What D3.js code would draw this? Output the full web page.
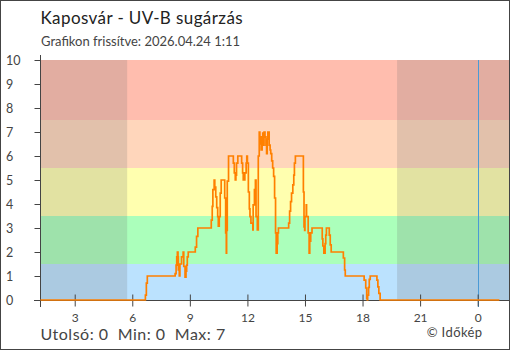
<!DOCTYPE html>
<html>
<head>
<meta charset="utf-8">
<script src="https://cdn.jsdelivr.net/npm/d3@7"></script>
<style>
  body { margin: 0; background: #fff; }
  svg { display: block; }
  text { font-family: Lato, "Noto Sans", sans-serif; }
</style>
</head>
<body>
<svg id="chart" width="510" height="350"></svg>
<script>
// Texts
const title = "Kaposvár - UV-B sugárzás";
const subtitle = "Grafikon frissítve: 2026.04.24 1:11";
const credit = "© Időkép";

// UV-B readings (step series, each value holds until the next timestamp)
const times = [
  "2026-04-23T01:13", "2026-04-23T06:41", "2026-04-23T06:44", "2026-04-23T06:47",
  "2026-04-23T08:14", "2026-04-23T08:17", "2026-04-23T08:19", "2026-04-23T08:21",
  "2026-04-23T08:23", "2026-04-23T08:24", "2026-04-23T08:27", "2026-04-23T08:29",
  "2026-04-23T08:34", "2026-04-23T08:39", "2026-04-23T08:41", "2026-04-23T08:45",
  "2026-04-23T08:48", "2026-04-23T08:50", "2026-04-23T08:52", "2026-04-23T08:55",
  "2026-04-23T09:17", "2026-04-23T09:21", "2026-04-23T09:25", "2026-04-23T10:07",
  "2026-04-23T10:10", "2026-04-23T10:12", "2026-04-23T10:16", "2026-04-23T10:18",
  "2026-04-23T10:21", "2026-04-23T10:24", "2026-04-23T10:27", "2026-04-23T10:29",
  "2026-04-23T10:32", "2026-04-23T10:35", "2026-04-23T10:38", "2026-04-23T10:49",
  "2026-04-23T10:52", "2026-04-23T10:54", "2026-04-23T10:55", "2026-04-23T10:57",
  "2026-04-23T11:01", "2026-04-23T11:16", "2026-04-23T11:19", "2026-04-23T11:22",
  "2026-04-23T11:24", "2026-04-23T11:26", "2026-04-23T11:30", "2026-04-23T11:42",
  "2026-04-23T11:45", "2026-04-23T11:47", "2026-04-23T11:52", "2026-04-23T11:56",
  "2026-04-23T11:58", "2026-04-23T12:00", "2026-04-23T12:03", "2026-04-23T12:06",
  "2026-04-23T12:08", "2026-04-23T12:11", "2026-04-23T12:17", "2026-04-23T12:18",
  "2026-04-23T12:22", "2026-04-23T12:25", "2026-04-23T12:27", "2026-04-23T12:31",
  "2026-04-23T12:34", "2026-04-23T12:37", "2026-04-23T12:39", "2026-04-23T12:42",
  "2026-04-23T12:43", "2026-04-23T12:46", "2026-04-23T12:48", "2026-04-23T12:50",
  "2026-04-23T12:52", "2026-04-23T12:55", "2026-04-23T12:58", "2026-04-23T13:00",
  "2026-04-23T13:02", "2026-04-23T13:04", "2026-04-23T13:08", "2026-04-23T13:11",
  "2026-04-23T13:13", "2026-04-23T13:16", "2026-04-23T13:19", "2026-04-23T13:22",
  "2026-04-23T13:25", "2026-04-23T13:28", "2026-04-23T13:30", "2026-04-23T13:33",
  "2026-04-23T13:35", "2026-04-23T13:37", "2026-04-23T14:09", "2026-04-23T14:12",
  "2026-04-23T14:15", "2026-04-23T14:18", "2026-04-23T14:22", "2026-04-23T14:25",
  "2026-04-23T14:27", "2026-04-23T14:30", "2026-04-23T14:55", "2026-04-23T14:57",
  "2026-04-23T14:59", "2026-04-23T15:00", "2026-04-23T15:04", "2026-04-23T15:05",
  "2026-04-23T15:10", "2026-04-23T15:13", "2026-04-23T15:15", "2026-04-23T15:18",
  "2026-04-23T15:22", "2026-04-23T15:54", "2026-04-23T15:56", "2026-04-23T15:59",
  "2026-04-23T16:03", "2026-04-23T16:05", "2026-04-23T16:07", "2026-04-23T16:16",
  "2026-04-23T16:19", "2026-04-23T16:22", "2026-04-23T17:00", "2026-04-23T17:04",
  "2026-04-23T17:06", "2026-04-23T18:05", "2026-04-23T18:10", "2026-04-23T18:13",
  "2026-04-23T18:15", "2026-04-23T18:16", "2026-04-23T18:19", "2026-04-23T18:21",
  "2026-04-23T18:24", "2026-04-23T18:45", "2026-04-23T18:48", "2026-04-23T18:51",
  "2026-04-23T18:55", "2026-04-24T01:08"
];
const uvValues = [
  0, 0.2, 0.7, 1.0,
  1.1, 1.45, 1.8, 2.0,
  1.8, 1.25, 1.0, 1.5,
  1.8, 2.0, 1.4, 0.95,
  1.2, 1.45, 1.8, 2.0,
  2.2, 2.65, 3.0, 3.33,
  3.9, 4.6, 5.0, 4.7,
  4.3, 3.85, 3.47, 3.08,
  3.47, 4.45, 5.0, 4.25,
  2.8, 1.95, 2.9, 4.95,
  6.0, 5.7, 5.3, 5.0,
  5.2, 5.7, 6.0, 5.7,
  5.3, 5.0, 5.3, 5.7,
  6.0, 5.7, 4.5, 3.8,
  3.47, 3.2, 2.92, 3.96,
  4.6, 5.0, 3.47, 2.92,
  6.0, 7.0, 6.5, 6.8,
  6.25, 6.7, 6.95, 6.45,
  7.0, 6.8, 6.45, 6.1,
  6.7, 7.0, 6.45, 6.25,
  6.1, 5.8, 5.5, 5.15,
  4.25, 2.8, 1.95, 2.35,
  2.8, 3.0, 3.2, 3.7,
  4.1, 4.45, 4.8, 5.2,
  5.7, 6.0, 4.5, 3.05,
  2.9, 3.47, 3.96, 3.47,
  2.8, 1.95, 2.45, 2.8,
  3.0, 2.55, 2.25, 1.95,
  2.35, 2.7, 3.0, 2.7,
  2.3, 2.0, 1.75, 1.25,
  1.0, 0.83, 0.5, 0.07,
  0, 0.2, 0.53, 0.86,
  1.0, 0.83, 0.55, 0.28,
  0, 0
];

// Axis ticks
const yTicks = [0, 1, 2, 3, 4, 5, 6, 7, 8, 9, 10];
const xTickTimes = [
  "2026-04-23T03:00", "2026-04-23T06:00", "2026-04-23T09:00", "2026-04-23T12:00",
  "2026-04-23T15:00", "2026-04-23T18:00", "2026-04-23T21:00", "2026-04-24T00:00"
];
const xTickLabels = ["3", "6", "9", "12", "15", "18", "21", "0"];

// UV level bands and night periods
const bandEdges = [0, 1.5, 3.5, 5.5, 7.5, 10];
const bandColors = ["#bbe2fe", "#abffbb", "#ffffaf", "#ffd6bb", "#ffbdae"];
const nightStarts = ["2026-04-23T01:13", "2026-04-23T19:48"];
const nightEnds = ["2026-04-23T05:44", "2026-04-24T01:38"];
const timeDomain = ["2026-04-23T01:13", "2026-04-24T01:38"];
const midnight = "2026-04-24T00:00";

const parse = d3.timeParse("%Y-%m-%dT%H:%M");
const series = times.map((t, i) => ({ t: parse(t), v: uvValues[i] }));

const svg = d3.select("#chart");
const W = 510, H = 350;
const plotLeft = 40.5, plotRight = 509, plotTop = 60, plotBottom = 300;

const x = d3.scaleTime().domain(timeDomain.map(parse)).range([plotLeft, plotRight]);
const y = d3.scaleLinear().domain([0, 10]).range([plotBottom, plotTop]);

// UV level bands
const bands = d3.range(bandColors.length).map(i => ({ lo: bandEdges[i], hi: bandEdges[i + 1], c: bandColors[i] }));
svg.append("g").selectAll("rect").data(bands).join("rect")
  .attr("x", plotLeft).attr("width", plotRight - plotLeft)
  .attr("y", d => y(d.hi)).attr("height", d => y(d.lo) - y(d.hi))
  .attr("fill", d => d.c);

// Night shading
svg.append("g").selectAll("rect").data(nightStarts.map((s, i) => [parse(s), parse(nightEnds[i])])).join("rect")
  .attr("x", d => x(d[0])).attr("width", d => x(d[1]) - x(d[0]))
  .attr("y", plotTop).attr("height", plotBottom - plotTop)
  .attr("fill", "rgb(110,110,110)").attr("fill-opacity", 0.2);

// Midnight marker
const xm = Math.round(x(parse(midnight))) + 0.5;
svg.append("line")
  .attr("x1", xm).attr("x2", xm)
  .attr("y1", plotTop).attr("y2", 307)
  .attr("stroke", "#4a9ad6").attr("stroke-width", 1);

const axisColor = "#444";

// Y axis
const yAxis = svg.append("g").attr("transform", `translate(${plotLeft},0)`)
  .call(d3.axisLeft(y).tickValues(yTicks).tickSize(6).tickSizeOuter(0));
yAxis.select(".domain").remove();
yAxis.selectAll(".tick line").attr("stroke", axisColor);
yAxis.selectAll(".tick text")
  .attr("x", -34.5).attr("text-anchor", "start").attr("dy", "0.36em")
  .attr("fill", "#444").style("font-size", "12.5px");
svg.append("line").attr("x1", plotLeft).attr("x2", plotLeft).attr("y1", 55).attr("y2", 307)
  .attr("stroke", axisColor);

// X axis
const xAxis = svg.append("g").attr("transform", `translate(0,${plotBottom + 0.5})`)
  .call(d3.axisBottom(x).tickValues(xTickTimes.map(parse))
    .tickFormat((d, i) => xTickLabels[i]).tickSize(6).tickSizeOuter(0));
xAxis.select(".domain").remove();
xAxis.selectAll(".tick line").attr("y1", -6).attr("y2", 6).attr("stroke", axisColor);
xAxis.selectAll(".tick text").attr("y", 12.5).attr("fill", "#444").style("font-size", "12px");
svg.append("line").attr("x1", 34).attr("x2", plotRight).attr("y1", plotBottom + 0.5).attr("y2", plotBottom + 0.5)
  .attr("stroke", axisColor);

// UV-B line, drawn over the axes so the zero runs stay visible
const line = d3.line().x(d => x(d.t)).y(d => y(d.v)).curve(d3.curveStepAfter);
svg.append("path").datum(series)
  .attr("d", line)
  .attr("fill", "none").attr("stroke", "#ff8000").attr("stroke-width", 1.7)
  .attr("stroke-linejoin", "miter");

// Titles
svg.append("text").attr("x", 40.5).attr("y", 24).text(title)
  .attr("fill", "#222").style("font-size", "17px").style("letter-spacing", "0.4px");
svg.append("text").attr("x", 41).attr("y", 45.5).text(subtitle)
  .attr("fill", "#444").style("font-size", "13px");

// Summary
const lastValue = uvValues[uvValues.length - 1];
const fmt = v => String(Math.round(v));
svg.append("text").attr("x", 40.5).attr("y", 340).attr("xml:space", "preserve")
  .style("white-space", "pre")
  .text(`Utolsó: ${fmt(lastValue)}  Min: ${fmt(d3.min(uvValues))}  Max: ${fmt(d3.max(uvValues))}`)
  .attr("fill", "#444").style("font-size", "16px").style("letter-spacing", "0.5px");
svg.append("text").attr("x", 482.5).attr("y", 337).attr("text-anchor", "end").text(credit)
  .attr("fill", "#444").style("font-size", "13px").style("letter-spacing", "0.4px");

// Frame
svg.append("rect").attr("x", 0.5).attr("y", 0.5).attr("width", W - 1).attr("height", H - 1)
  .attr("fill", "none").attr("stroke", "#444");
</script>
</body>
</html>
